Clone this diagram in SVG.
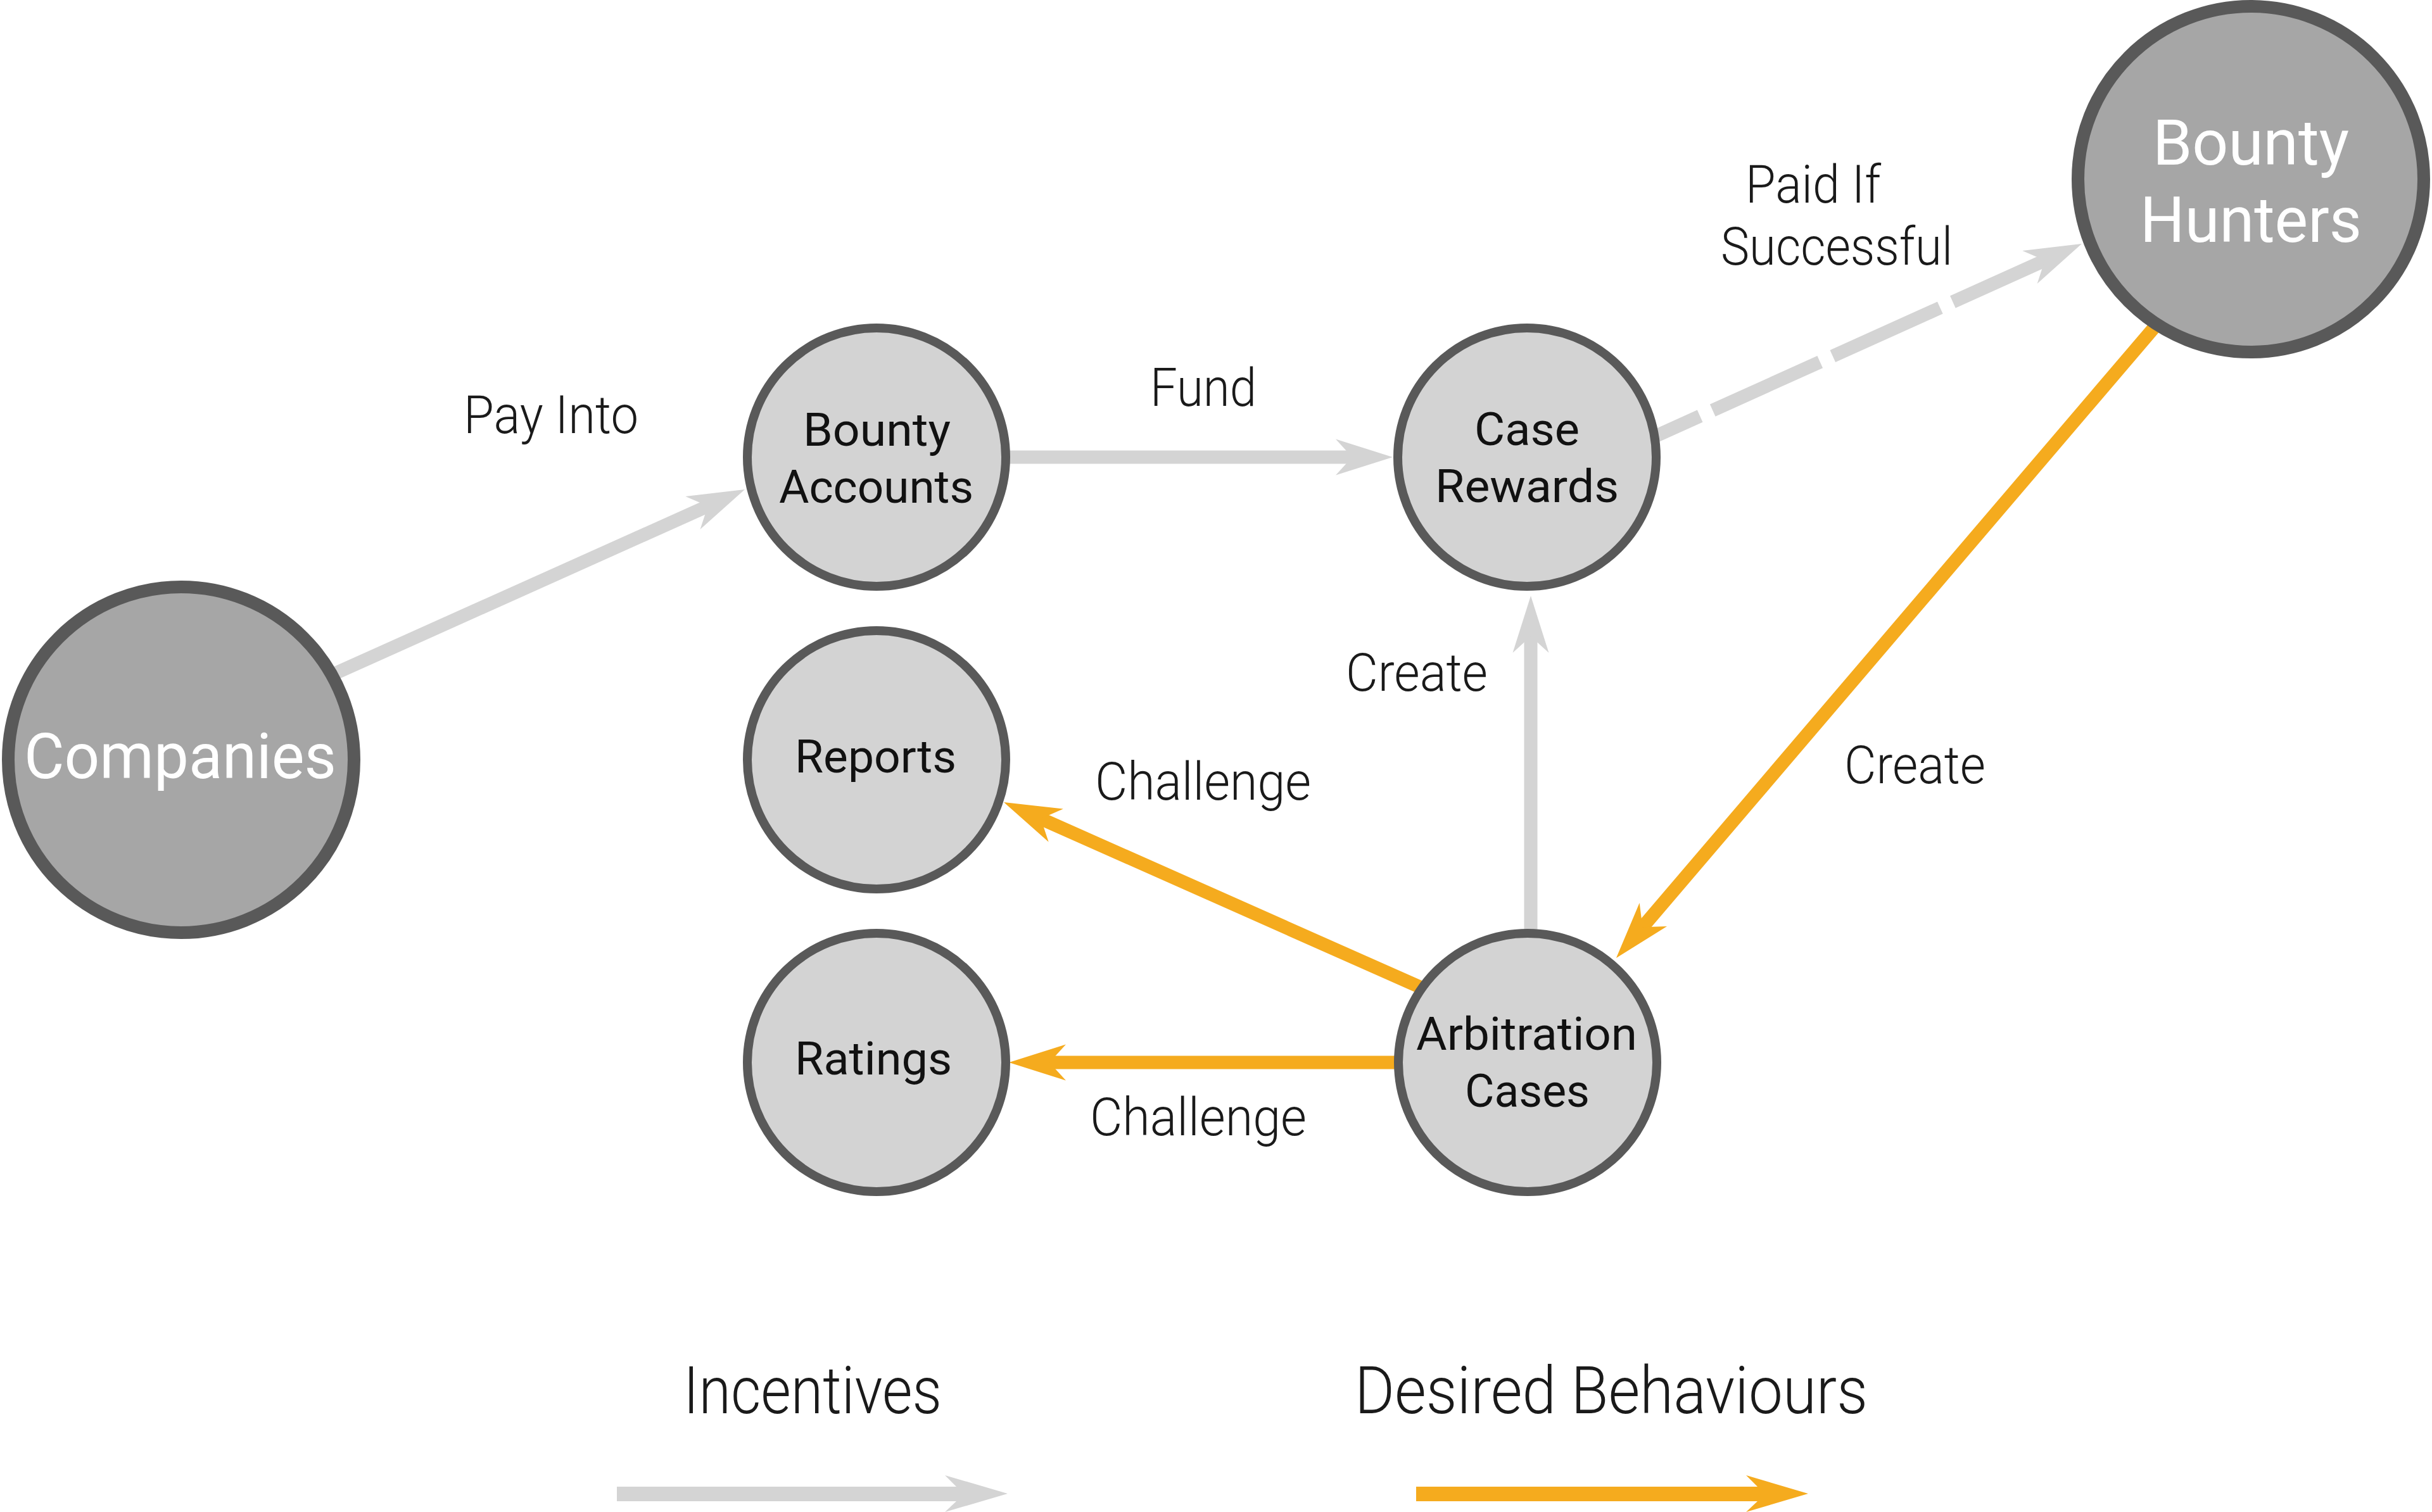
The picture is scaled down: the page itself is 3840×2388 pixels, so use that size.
<svg xmlns="http://www.w3.org/2000/svg" width="3840" height="2388" viewBox="0 0 3840 2388">
  <style>
    .bg { fill: #ffffff; }
    .node-s circle { fill: #d3d3d3; stroke: #595959; stroke-width: 14; }
    .node-l circle { fill: #a6a6a6; stroke: #595959; stroke-width: 20; }
    .node-s text { font-family: Roboto, "Liberation Sans", sans-serif; font-weight: 400; font-size: 72px; fill: #111111; }
    .node-l text { font-family: Roboto, "Liberation Sans", sans-serif; font-weight: 400; font-size: 100px; fill: #ffffff; }
    .lbl { font-family: Roboto, "Liberation Sans", sans-serif; font-weight: 300; font-size: 84px; fill: #1a1a1a; }
    .legend { font-family: Roboto, "Liberation Sans", sans-serif; font-weight: 300; font-size: 104px; fill: #1a1a1a; }
    .inc { fill: none; stroke: #d4d4d4; stroke-width: 21; marker-end: url(#headGray); }
    .beh { fill: none; stroke: #f5ab1e; stroke-width: 21; marker-end: url(#headOrange); }
    .dash { stroke-dasharray: 186 22; stroke-dashoffset: 53.4; }
    .leg-inc { fill: #d4d4d4; }
    .leg-beh { fill: #f5ab1e; }
  </style>
  <defs>
    <marker id="headGray" markerUnits="userSpaceOnUse" markerWidth="100" markerHeight="64" viewBox="0 -32 100 64" refX="32" refY="0" orient="auto" overflow="visible">
      <path d="M0,-28.5 L90,0 L0,28.5 L26,0 Z" fill="#d4d4d4"/>
    </marker>
    <marker id="headOrange" markerUnits="userSpaceOnUse" markerWidth="100" markerHeight="64" viewBox="0 -32 100 64" refX="32" refY="0" orient="auto" overflow="visible">
      <path d="M0,-28.5 L90,0 L0,28.5 L26,0 Z" fill="#f5ab1e"/>
    </marker>
  </defs>
  <rect class="bg" x="0" y="0" width="3840" height="2388"/>

  <g id="connectors">
    <path id="e-companies-accounts" class="inc" d="M500.5,1076.4 L1123.1,796.8"/>
    <path id="e-accounts-rewards" class="inc" d="M1560,722 L2141,722"/>
    <path id="e-rewards-hunters" class="inc dash" d="M2563.3,711.7 L3234.1,408.9"/>
    <path id="e-arbitration-rewards" class="inc" d="M2417,1560 L2417,999"/>
    <path id="e-hunters-arbitration" class="beh" d="M3425,489.6 L2589.6,1468.9"/>
    <path id="e-arbitration-reports" class="beh" d="M2269.6,1571.2 L1638,1290.6"/>
    <path id="e-arbitration-ratings" class="beh" d="M2240,1678 L1651,1678"/>
  </g>

  <g id="edge-labels">
    <text class="lbl" x="732" y="684" textLength="276" lengthAdjust="spacingAndGlyphs">Pay Into</text>
    <text class="lbl" x="1816" y="641" textLength="168" lengthAdjust="spacingAndGlyphs">Fund</text>
    <text class="lbl" x="2756" y="320" textLength="214" lengthAdjust="spacingAndGlyphs">Paid If</text>
    <text class="lbl" x="2717" y="418" textLength="366" lengthAdjust="spacingAndGlyphs">Successful</text>
    <text class="lbl" x="2125" y="1091" textLength="224" lengthAdjust="spacingAndGlyphs">Create</text>
    <text class="lbl" x="2912" y="1237" textLength="223" lengthAdjust="spacingAndGlyphs">Create</text>
    <text class="lbl" x="1729" y="1263" textLength="341" lengthAdjust="spacingAndGlyphs">Challenge</text>
    <text class="lbl" x="1721" y="1793" textLength="342" lengthAdjust="spacingAndGlyphs">Challenge</text>
  </g>

  <g id="node-companies" class="node-l">
    <circle cx="286" cy="1200" r="273"/>
    <text x="38" y="1229" textLength="493" lengthAdjust="spacingAndGlyphs">Companies</text>
  </g>
  <g id="node-bounty-hunters" class="node-l">
    <circle cx="3554" cy="283" r="273"/>
    <text x="3399" y="260" textLength="310" lengthAdjust="spacingAndGlyphs">Bounty</text>
    <text x="3379" y="382" textLength="350" lengthAdjust="spacingAndGlyphs">Hunters</text>
  </g>
  <g id="node-bounty-accounts" class="node-s">
    <circle cx="1384" cy="722" r="204"/>
    <text x="1268" y="704" textLength="233" lengthAdjust="spacingAndGlyphs">Bounty</text>
    <text x="1230" y="794" textLength="307" lengthAdjust="spacingAndGlyphs">Accounts</text>
  </g>
  <g id="node-case-rewards" class="node-s">
    <circle cx="2411" cy="722" r="204"/>
    <text x="2328" y="703" textLength="166" lengthAdjust="spacingAndGlyphs">Case</text>
    <text x="2266" y="793" textLength="290" lengthAdjust="spacingAndGlyphs">Rewards</text>
  </g>
  <g id="node-reports" class="node-s">
    <circle cx="1384" cy="1200" r="204"/>
    <text x="1255" y="1220" textLength="255" lengthAdjust="spacingAndGlyphs">Reports</text>
  </g>
  <g id="node-ratings" class="node-s">
    <circle cx="1384" cy="1678" r="204"/>
    <text x="1255" y="1697" textLength="248" lengthAdjust="spacingAndGlyphs">Ratings</text>
  </g>
  <g id="node-arbitration-cases" class="node-s">
    <circle cx="2412" cy="1678" r="204"/>
    <text x="2236" y="1658" textLength="349" lengthAdjust="spacingAndGlyphs">Arbitration</text>
    <text x="2313" y="1748" textLength="197" lengthAdjust="spacingAndGlyphs">Cases</text>
  </g>

  <g id="legend">
    <text class="legend" x="1079" y="2232" textLength="408" lengthAdjust="spacingAndGlyphs">Incentives</text>
    <text class="legend" x="2139" y="2232" textLength="810" lengthAdjust="spacingAndGlyphs">Desired Behaviours</text>
    <path class="leg-inc" d="M974,2348 L1510,2348 L1492,2330 L1591,2359 L1492,2388 L1510,2371 L974,2371 Z"/>
    <path class="leg-beh" d="M2236,2348 L2775,2348 L2757,2330 L2855,2359 L2757,2388 L2775,2371 L2236,2371 Z"/>
  </g>
</svg>
